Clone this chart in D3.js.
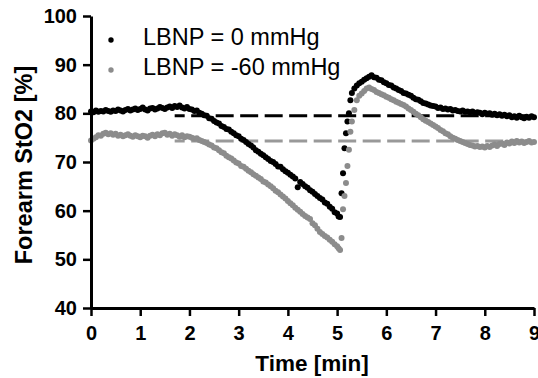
<!DOCTYPE html>
<html>
<head>
<meta charset="utf-8">
<script src="https://cdn.jsdelivr.net/npm/d3@7"></script>
<style>
  body { margin: 0; background: #fff; }
  svg { display: block; font-family: "Liberation Sans", Arial, sans-serif; }
</style>
</head>
<body>
<div id="chart"></div>
<script>
// time in minutes (finer sampling around the recovery jump)
const timeMin = [
  0.00, 0.05, 0.10, 0.15, 0.20, 0.25, 0.30, 0.35, 0.40, 0.45,
  0.50, 0.55, 0.60, 0.65, 0.70, 0.75, 0.80, 0.85, 0.90, 0.95,
  1.00, 1.05, 1.10, 1.15, 1.20, 1.25, 1.30, 1.35, 1.40, 1.45,
  1.50, 1.55, 1.60, 1.65, 1.70, 1.75, 1.80, 1.85, 1.90, 1.95,
  2.00, 2.05, 2.10, 2.15, 2.20, 2.25, 2.30, 2.35, 2.40, 2.45,
  2.50, 2.55, 2.60, 2.65, 2.70, 2.75, 2.80, 2.85, 2.90, 2.95,
  3.00, 3.05, 3.10, 3.15, 3.20, 3.25, 3.30, 3.35, 3.40, 3.45,
  3.50, 3.55, 3.60, 3.65, 3.70, 3.75, 3.80, 3.85, 3.90, 3.95,
  4.00, 4.05, 4.10, 4.15, 4.20, 4.25, 4.30, 4.35, 4.40, 4.45,
  4.50, 4.55, 4.60, 4.65, 4.70, 4.75, 4.80, 4.85, 4.90, 4.95,
  5.00,
  5.03, 5.06, 5.09, 5.12, 5.15, 5.18, 5.21, 5.24, 5.27, 5.30,
  5.35, 5.40, 5.45, 5.50, 5.55, 5.60, 5.65, 5.70, 5.75, 5.80,
  5.85, 5.90, 5.95, 6.00, 6.05, 6.10, 6.15, 6.20, 6.25, 6.30,
  6.35, 6.40, 6.45, 6.50, 6.55, 6.60, 6.65, 6.70, 6.75, 6.80,
  6.85, 6.90, 6.95, 7.00, 7.05, 7.10, 7.15, 7.20, 7.25, 7.30,
  7.35, 7.40, 7.45, 7.50, 7.55, 7.60, 7.65, 7.70, 7.75, 7.80,
  7.85, 7.90, 7.95, 8.00, 8.05, 8.10, 8.15, 8.20, 8.25, 8.30,
  8.35, 8.40, 8.45, 8.50, 8.55, 8.60, 8.65, 8.70, 8.75, 8.80,
  8.85, 8.90, 8.95, 9.00
];

// LBNP = 0 mmHg
const sto2Lbnp0 = [
  80.4, 80.2, 80.6, 80.3, 80.5, 80.4, 80.7, 80.5, 80.3, 80.6,
  80.5, 80.8, 80.6, 80.4, 80.7, 80.9, 80.6, 80.8, 81.0, 80.7,
  80.9, 81.2, 80.8, 80.6, 81.0, 81.1, 80.8, 81.0, 81.3, 81.1,
  80.9, 81.2, 81.4, 81.1, 81.5, 81.3, 81.6, 81.2, 81.0, 81.3,
  80.9, 80.8, 80.5, 80.6, 80.1, 79.9, 79.6, 79.5, 79.0, 78.9,
  78.4, 78.1, 77.9, 77.4, 77.2, 76.8, 76.7, 76.2, 75.9, 75.5,
  75.3, 74.8, 74.5, 74.1, 73.7, 73.4, 73.0, 72.4, 72.1, 71.7,
  71.4, 71.0, 70.6, 70.2, 70.0, 69.6, 69.1, 69.0, 68.5, 68.1,
  67.8, 67.4, 67.0, 66.6, 64.8, 65.9, 65.5, 65.0, 64.7, 64.2,
  63.9, 63.4, 63.0, 62.6, 62.3, 61.7, 61.4, 60.8, 60.4, 59.7,
  59.4,
  58.8, 58.7, 63.6, 67.7, 72.8, 75.9, 78.3, 80.0, 82.7, 84.2,
  85.1, 85.7, 86.2, 86.5, 86.9, 87.2, 87.5, 87.8, 87.4, 87.3,
  86.9, 86.8, 86.4, 86.2, 85.8, 85.7, 85.3, 85.1, 84.8, 84.6,
  84.2, 84.1, 83.8, 83.6, 83.2, 82.9, 82.8, 82.5, 82.1, 82.0,
  81.8, 81.6, 81.5, 81.4, 81.1, 81.2, 80.9, 81.0, 80.8, 80.9,
  80.6, 80.7, 80.5, 80.4, 80.6, 80.3, 80.4, 80.2, 80.4, 80.0,
  80.2, 80.1, 79.8, 80.1, 79.9, 80.0, 79.7, 79.9, 79.6, 79.8,
  79.5, 79.7, 79.4, 79.6, 79.2, 79.4, 79.1, 79.5, 79.2, 79.0,
  79.3, 79.1, 79.4, 79.2
];

// LBNP = -60 mmHg
const sto2Lbnp60 = [
  74.4, 74.8, 75.1, 75.5, 75.4, 75.8, 76.0, 75.7, 75.9, 75.6,
  75.8, 75.4, 75.6, 75.3, 75.5, 75.7, 75.4, 75.2, 75.5, 75.3,
  75.1, 75.4, 75.3, 75.0, 75.4, 75.6, 75.3, 75.7, 75.5, 75.9,
  76.0, 75.6, 75.8, 75.4, 75.7, 75.5, 75.2, 75.5, 75.1, 75.3,
  75.2, 75.0, 74.8, 74.9, 74.5, 74.3, 74.1, 73.9, 73.6, 73.4,
  73.0, 72.8, 72.4, 72.0, 71.8, 71.3, 71.0, 70.7, 70.3, 69.9,
  69.7, 69.2, 69.0, 68.6, 68.2, 67.9, 67.5, 67.2, 66.8, 66.5,
  66.0, 65.8, 65.4, 65.0, 64.6, 64.1, 63.8, 63.3, 62.9, 62.5,
  62.0, 61.5, 61.1, 60.6, 60.2, 59.8, 59.3, 58.9, 58.6, 58.3,
  57.4, 57.0, 56.3, 55.6, 55.2, 54.8, 54.5, 54.0, 53.6, 53.1,
  52.7,
  52.3, 51.9, 54.4, 60.3, 63.0, 65.7, 69.2, 72.5, 76.2, 78.3,
  80.7, 82.7, 83.6, 84.1, 84.6, 85.1, 85.3, 85.0, 84.8, 84.4,
  84.2, 83.9, 83.7, 83.4, 83.2, 82.9, 82.7, 82.4, 82.2, 81.9,
  81.7, 81.4, 81.0, 80.7, 80.3, 79.9, 79.6, 79.2, 78.8, 78.5,
  78.2, 77.9, 77.6, 77.3, 77.0, 76.6, 76.3, 75.9, 75.7, 75.3,
  75.0, 74.8, 74.5, 74.3, 74.1, 73.9, 73.7, 73.5, 73.4, 73.2,
  73.3, 73.1, 73.2, 73.0, 73.3, 73.1, 73.4, 73.6, 73.3, 73.7,
  73.8, 73.5, 74.0, 73.8, 74.2, 73.9, 74.3, 74.0, 74.2, 73.9,
  74.1, 74.3, 74.0, 74.1
];

// baseline means (dashed lines) and the time span they cover
const baselines = [79.5, 74.3];
const baselineSpan = [1.7, 9];

const seriesNames = ['LBNP = 0 mmHg', 'LBNP = -60 mmHg'];
const seriesColors = ['#000000', '#8c8c8c'];
const dashColors = ['#000000', '#999999'];

const xTicks = [0, 1, 2, 3, 4, 5, 6, 7, 8, 9];
const yTicks = [40, 50, 60, 70, 80, 90, 100];

const width = 538, height = 378;

const svg = d3.select('#chart').append('svg')
  .attr('width', width)
  .attr('height', height);

const x = d3.scaleLinear().domain([0, 9]).range([91, 534]);
const y = d3.scaleLinear().domain([40, 100]).range([308, 16]);

// dashed baselines
svg.append('g').selectAll('line')
  .data(baselines)
  .enter()
  .append('line')
  .attr('x1', x(baselineSpan[0]))
  .attr('x2', x(baselineSpan[1]))
  .attr('y1', d => y(d))
  .attr('y2', d => y(d))
  .attr('stroke', (d, i) => dashColors[i])
  .attr('stroke-width', 3)
  .attr('stroke-dasharray', '18,6.5')
  .attr('stroke-dashoffset', 8);

// dots, one group per series
const series = [sto2Lbnp0, sto2Lbnp60];
series.forEach((vals, i) => {
  const n = Math.min(vals.length, timeMin.length);
  if (vals.length !== timeMin.length) console.warn('length mismatch', i, vals.length, timeMin.length);
  svg.append('g').selectAll('circle')
    .data(d3.range(n))
    .enter()
    .append('circle')
    .attr('cx', k => x(timeMin[k]))
    .attr('cy', k => y(vals[k]))
    .attr('r', 3)
    .attr('fill', seriesColors[i]);
});

// axes
const xAxis = svg.append('g')
  .attr('transform', `translate(0,${y(40)})`)
  .call(d3.axisBottom(x).tickValues(xTicks).tickSize(8).tickSizeOuter(0).tickPadding(10));

const yAxis = svg.append('g')
  .attr('transform', `translate(${x(0)},0)`)
  .call(d3.axisLeft(y).tickValues(yTicks).tickSize(8).tickSizeOuter(0).tickPadding(6));

[xAxis, yAxis].forEach(g => {
  g.select('.domain').attr('stroke', '#000').attr('stroke-width', 3);
  g.selectAll('.tick line').attr('stroke', '#000').attr('stroke-width', 2.5);
  g.selectAll('.tick text')
    .attr('fill', '#000')
    .style('font-family', '"Liberation Sans", Arial, sans-serif')
    .style('font-size', '20px')
    .style('font-weight', 'bold');
});

// axis titles
svg.append('text')
  .attr('x', 312)
  .attr('y', 371)
  .attr('text-anchor', 'middle')
  .style('font-size', '22.5px')
  .style('font-weight', 'bold')
  .text('Time [min]');

svg.append('text')
  .attr('transform', 'translate(32,165) rotate(-90)')
  .attr('text-anchor', 'middle')
  .style('font-size', '23.5px')
  .style('font-weight', 'bold')
  .text('Forearm StO2 [%]');

// legend
const legend = svg.append('g');
seriesNames.forEach((name, i) => {
  legend.append('circle')
    .attr('cx', 111)
    .attr('cy', 40 + i * 30)
    .attr('r', 2.7)
    .attr('fill', seriesColors[i]);
  legend.append('text')
    .attr('x', 143)
    .attr('y', 45 + i * 30)
    .style('font-size', '23.5px')
    .attr('fill', '#000')
    .text(name);
});
</script>
</body>
</html>
